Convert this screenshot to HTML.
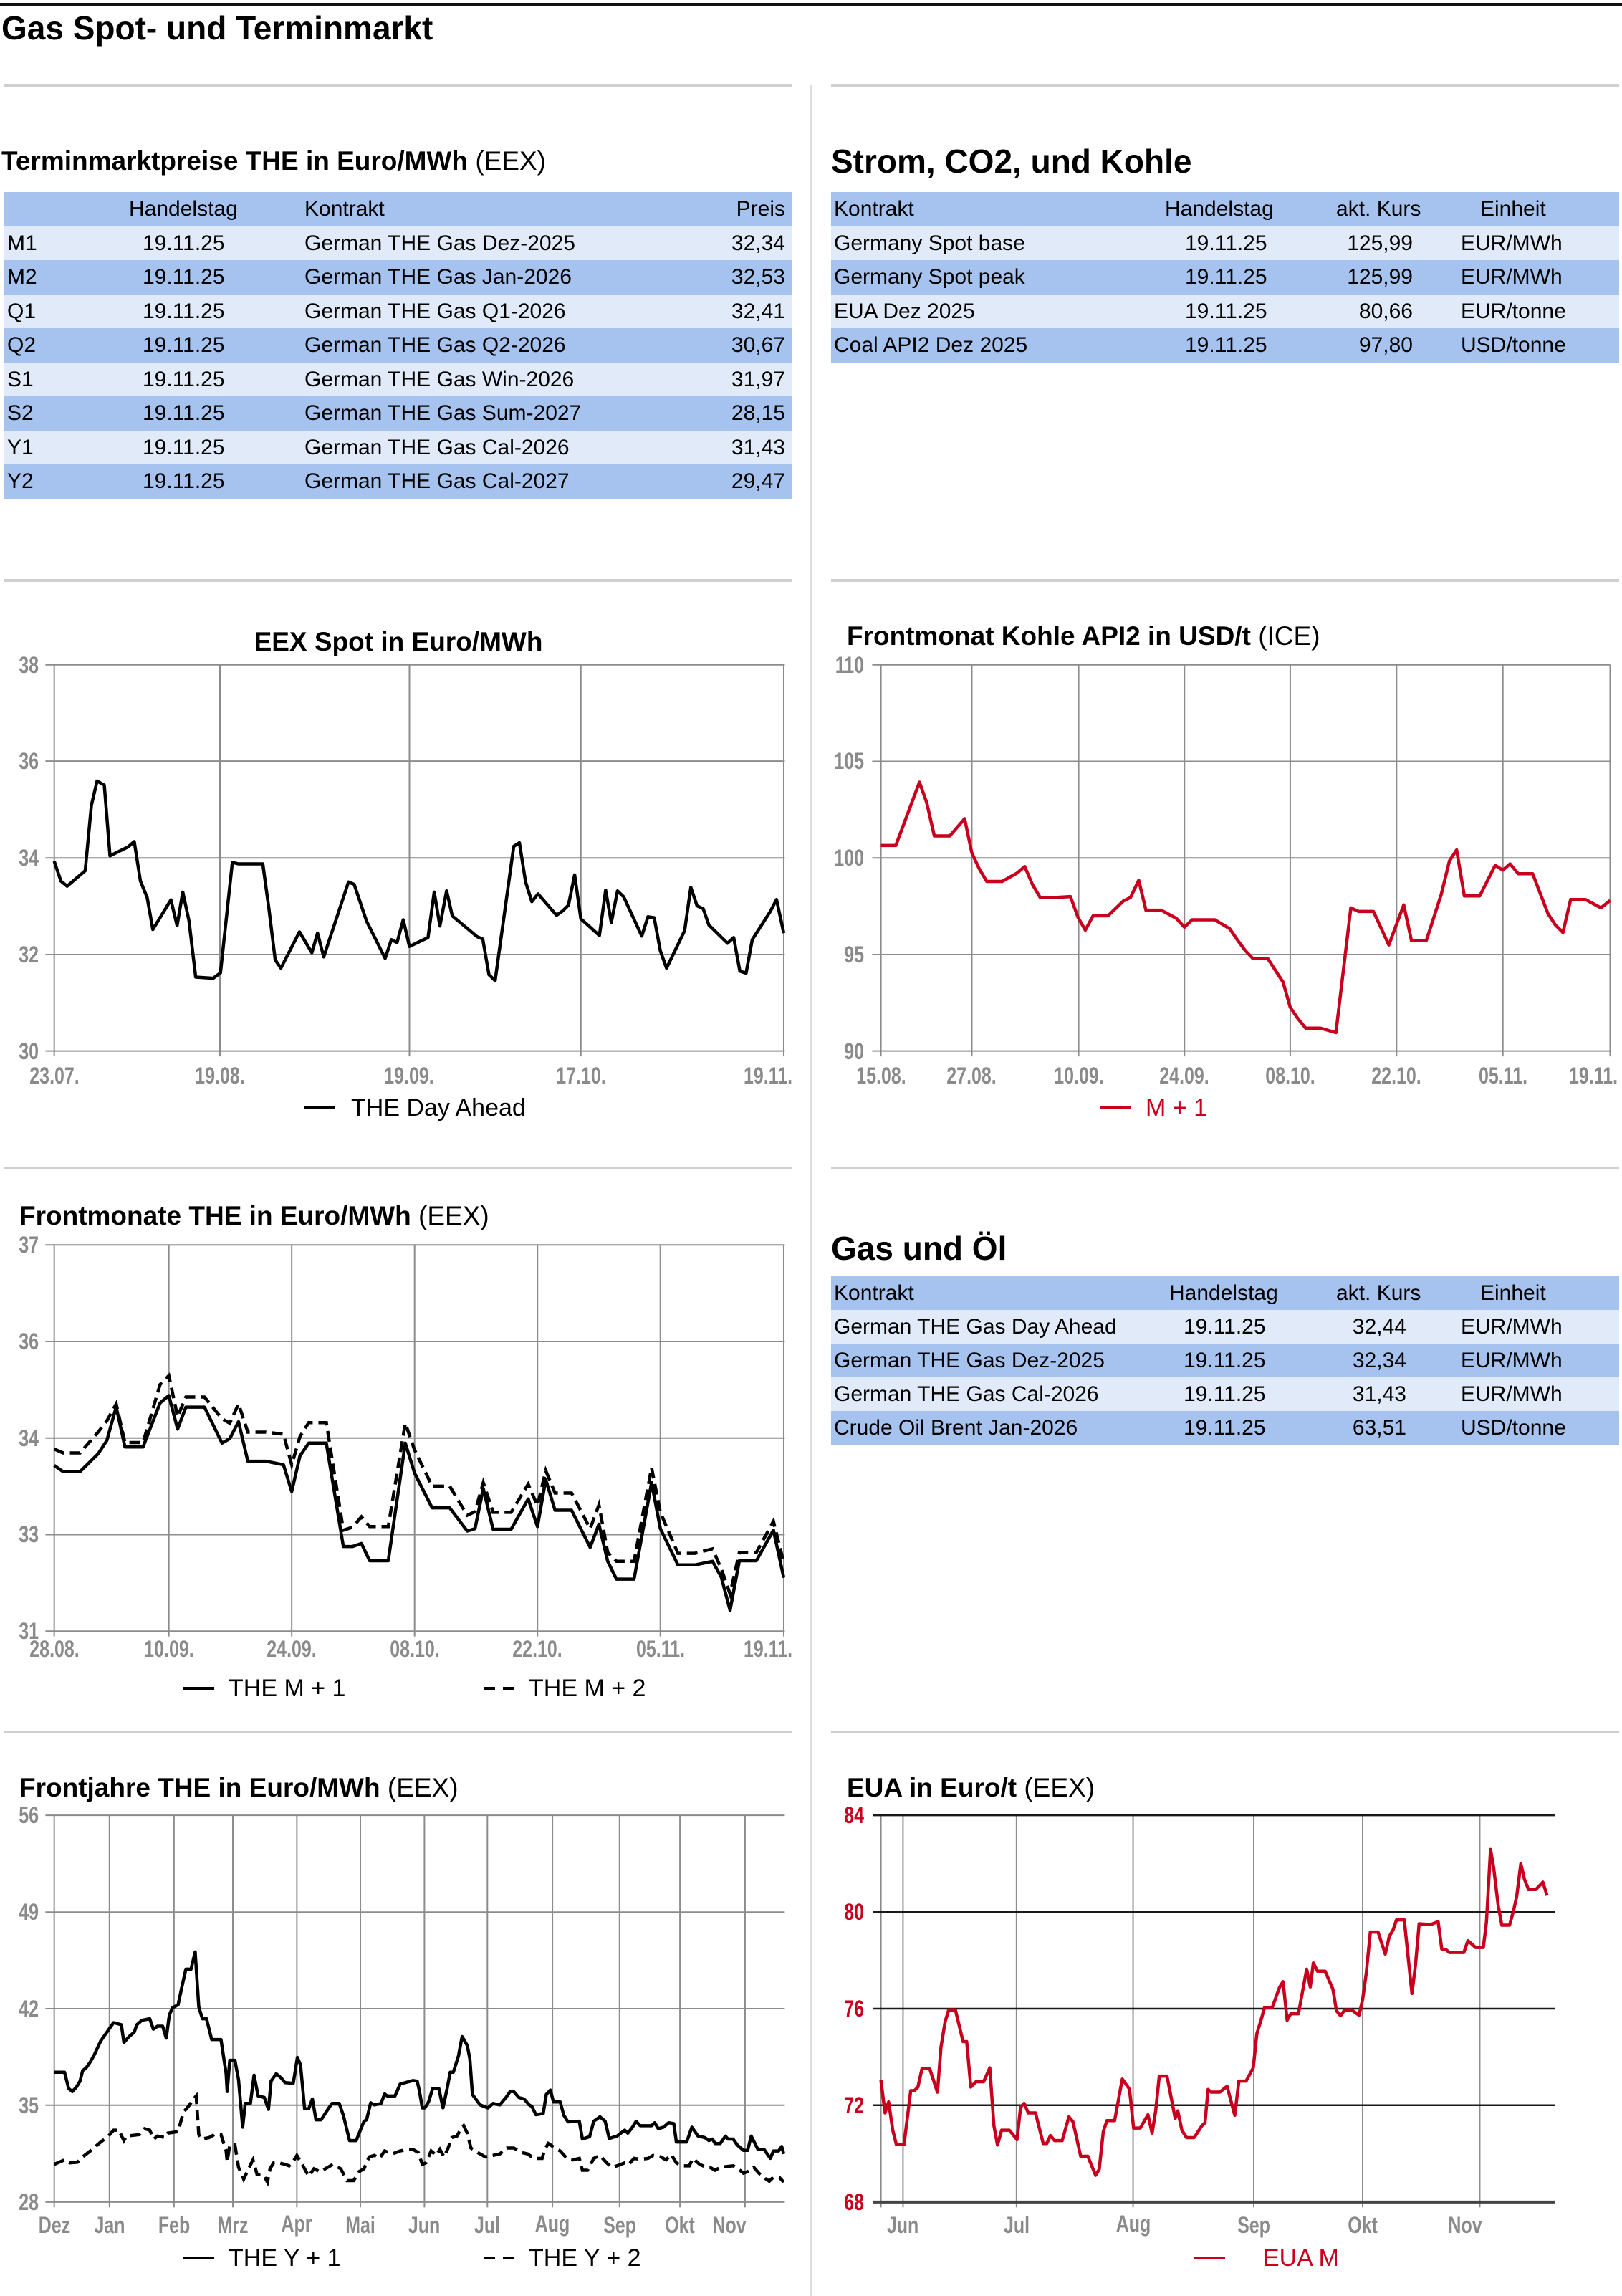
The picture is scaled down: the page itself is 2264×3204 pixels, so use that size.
<!DOCTYPE html>
<html><head><meta charset="utf-8">
<style>
body{margin:0;background:#fff;}
#p{position:relative;width:2264px;height:3204px;overflow:hidden;background:#fff;font-family:"Liberation Sans",Arial,sans-serif;color:#000;}
.a{position:absolute;white-space:nowrap;}
.hl{position:absolute;height:4px;background:#cfcfcf;}
.t{font-weight:bold;font-size:37px;transform:translateY(-50%);}
.t span{font-weight:normal;}
.row{position:absolute;height:47.5px;font-size:30px;line-height:47.5px;}
.row span{position:absolute;top:0;white-space:nowrap;}
.r{transform:translateX(-100%);}
.lt{background:#e0eaf8;}
.dk{background:#a5c3ee;}
.yl,.xl{position:absolute;font-weight:bold;font-size:32px;color:#8a8a8a;white-space:nowrap;line-height:1;}
.yl{transform:translate(-100%,-50%) scaleX(.78);transform-origin:right center;}
.xl{transform:translate(-50%,-50%) scaleX(.78);transform-origin:center center;}
.lg{position:absolute;font-size:34px;white-space:nowrap;transform:translateY(-50%);line-height:1;}
svg{position:absolute;overflow:visible;}
</style></head><body><div id="p">

<div class="a" style="left:0;top:4px;width:2264px;height:4px;background:#111"></div>
<div class="a" style="left:2px;top:39px;transform:translateY(-50%);font-size:46px;font-weight:bold;">Gas Spot- und Terminmarkt</div>

<div class="hl" style="left:6px;top:117px;width:1100px"></div>
<div class="hl" style="left:1160px;top:117px;width:1100px"></div>
<div class="a" style="left:1130px;top:118px;width:3px;height:3086px;background:#ddd"></div>
<div class="hl" style="left:6px;top:808px;width:1100px"></div>
<div class="hl" style="left:1160px;top:808px;width:1100px"></div>
<div class="hl" style="left:6px;top:1628px;width:1100px"></div>
<div class="hl" style="left:1160px;top:1628px;width:1100px"></div>
<div class="hl" style="left:6px;top:2415px;width:1100px"></div>
<div class="hl" style="left:1160px;top:2415px;width:1100px"></div>

<!-- Left table -->
<div class="a t" style="left:2px;top:225px;">Terminmarktpreise THE in Euro/MWh <span>(EEX)</span></div>
<div class="row dk" style="left:6px;top:268px;width:1100px"><span style="left:174px">Handelstag</span><span style="left:419px">Kontrakt</span><span class="r" style="left:1090px">Preis</span></div>
<div class="row lt" style="left:6px;top:315.5px;width:1100px"><span style="left:4px">M1</span><span style="left:193px">19.11.25</span><span style="left:419px">German THE Gas Dez-2025</span><span class="r" style="left:1090px">32,34</span></div>
<div class="row dk" style="left:6px;top:363px;width:1100px"><span style="left:4px">M2</span><span style="left:193px">19.11.25</span><span style="left:419px">German THE Gas Jan-2026</span><span class="r" style="left:1090px">32,53</span></div>
<div class="row lt" style="left:6px;top:410.5px;width:1100px"><span style="left:4px">Q1</span><span style="left:193px">19.11.25</span><span style="left:419px">German THE Gas Q1-2026</span><span class="r" style="left:1090px">32,41</span></div>
<div class="row dk" style="left:6px;top:458px;width:1100px"><span style="left:4px">Q2</span><span style="left:193px">19.11.25</span><span style="left:419px">German THE Gas Q2-2026</span><span class="r" style="left:1090px">30,67</span></div>
<div class="row lt" style="left:6px;top:505.5px;width:1100px"><span style="left:4px">S1</span><span style="left:193px">19.11.25</span><span style="left:419px">German THE Gas Win-2026</span><span class="r" style="left:1090px">31,97</span></div>
<div class="row dk" style="left:6px;top:553px;width:1100px"><span style="left:4px">S2</span><span style="left:193px">19.11.25</span><span style="left:419px">German THE Gas Sum-2027</span><span class="r" style="left:1090px">28,15</span></div>
<div class="row lt" style="left:6px;top:600.5px;width:1100px"><span style="left:4px">Y1</span><span style="left:193px">19.11.25</span><span style="left:419px">German THE Gas Cal-2026</span><span class="r" style="left:1090px">31,43</span></div>
<div class="row dk" style="left:6px;top:648px;width:1100px"><span style="left:4px">Y2</span><span style="left:193px">19.11.25</span><span style="left:419px">German THE Gas Cal-2027</span><span class="r" style="left:1090px">29,47</span></div>

<!-- Right top table -->
<div class="a" style="left:1160px;top:225px;transform:translateY(-50%);font-size:46px;font-weight:bold;">Strom, CO2, und Kohle</div>
<div class="row dk" style="left:1160px;top:268px;width:1100px"><span style="left:4px">Kontrakt</span><span style="left:466px">Handelstag</span><span style="left:705px">akt. Kurs</span><span style="left:906px">Einheit</span></div>
<div class="row lt" style="left:1160px;top:315.5px;width:1100px"><span style="left:4px">Germany Spot base</span><span style="left:494px">19.11.25</span><span class="r" style="left:812px">125,99</span><span style="left:879px">EUR/MWh</span></div>
<div class="row dk" style="left:1160px;top:363px;width:1100px"><span style="left:4px">Germany Spot peak</span><span style="left:494px">19.11.25</span><span class="r" style="left:812px">125,99</span><span style="left:879px">EUR/MWh</span></div>
<div class="row lt" style="left:1160px;top:410.5px;width:1100px"><span style="left:4px">EUA Dez 2025</span><span style="left:494px">19.11.25</span><span class="r" style="left:812px">80,66</span><span style="left:879px">EUR/tonne</span></div>
<div class="row dk" style="left:1160px;top:458px;width:1100px"><span style="left:4px">Coal API2 Dez 2025</span><span style="left:494px">19.11.25</span><span class="r" style="left:812px">97,80</span><span style="left:879px">USD/tonne</span></div>

<!-- Gas und Öl -->
<div class="a" style="left:1160px;top:1742px;transform:translateY(-50%);font-size:46px;font-weight:bold;">Gas und Öl</div>
<div class="row dk" style="left:1160px;top:1781px;width:1100px;height:47px;line-height:47px"><span style="left:472px">Handelstag</span><span style="left:705px">akt. Kurs</span><span style="left:906px">Einheit</span><span style="left:4px">Kontrakt</span></div>
<div class="row lt" style="left:1160px;top:1828px;width:1100px;height:47px;line-height:47px"><span style="left:4px">German THE Gas Day Ahead</span><span style="left:492px">19.11.25</span><span class="r" style="left:803px">32,44</span><span style="left:879px">EUR/MWh</span></div>
<div class="row dk" style="left:1160px;top:1875px;width:1100px;height:47px;line-height:47px"><span style="left:4px">German THE Gas Dez-2025</span><span style="left:492px">19.11.25</span><span class="r" style="left:803px">32,34</span><span style="left:879px">EUR/MWh</span></div>
<div class="row lt" style="left:1160px;top:1922px;width:1100px;height:47px;line-height:47px"><span style="left:4px">German THE Gas Cal-2026</span><span style="left:492px">19.11.25</span><span class="r" style="left:803px">31,43</span><span style="left:879px">EUR/MWh</span></div>
<div class="row dk" style="left:1160px;top:1969px;width:1100px;height:47px;line-height:47px"><span style="left:4px">Crude Oil Brent Jan-2026</span><span style="left:492px">19.11.25</span><span class="r" style="left:803px">63,51</span><span style="left:879px">USD/tonne</span></div>

<!-- Chart 1 -->
<div class="a t" style="left:556px;top:896px;transform:translate(-50%,-50%);">EEX Spot in Euro/MWh</div>
<svg style="left:0;top:900px;width:1130px;height:650px" viewBox="0 0 1568 1568" preserveAspectRatio="none">
<path fill="none" stroke="#8c8c8c" stroke-width="2" vector-effect="non-scaling-stroke" d="M88 67H1520M88 391H1520M88 717H1520M88 1042H1520M88 1367H1520M105 67V1385M426 67V1385M793 67V1385M1125 67V1385M1518 67V1385"/>
<polyline fill="none" stroke="#000" stroke-width="4.5" vector-effect="non-scaling-stroke" stroke-linejoin="round" points="105,728 118,795 130,812 165,760 177,540 188,458 202,472 213,710 248,680 260,662 272,795 285,850 296,958 331,858 343,945 354,832 366,928 379,1118 413,1122 427,1104 450,732 462,737 509,737 521,890 533,1060 544,1088 580,966 604,1036 615,970 627,1050 675,798 686,806 710,930 746,1055 758,992 769,1002 781,925 793,1015 829,985 841,832 852,946 865,828 876,912 924,982 935,990 947,1110 959,1130 995,678 1006,666 1018,798 1030,864 1042,838 1078,910 1090,895 1101,876 1113,774 1125,922 1161,978 1173,826 1184,934 1196,828 1208,848 1243,980 1255,915 1267,918 1279,1030 1291,1088 1326,962 1338,816 1350,878 1362,888 1373,943 1409,1004 1421,985 1433,1098 1445,1105 1457,992 1492,897 1504,857 1518,970"/>
</svg>
<div class="yl" style="left:54px;top:928px">38</div><div class="yl" style="left:54px;top:1062px">36</div><div class="yl" style="left:54px;top:1197px">34</div><div class="yl" style="left:54px;top:1332px">32</div><div class="yl" style="left:54px;top:1467px">30</div>
<div class="xl" style="left:76px;top:1501px">23.07.</div><div class="xl" style="left:307px;top:1501px">19.08.</div><div class="xl" style="left:571px;top:1501px">19.09.</div><div class="xl" style="left:811px;top:1501px">17.10.</div><div class="xl" style="left:1072px;top:1501px">19.11.</div>
<div class="a" style="left:425px;top:1544px;width:43px;height:4px;background:#000"></div>
<div class="lg" style="left:490px;top:1546px">THE Day Ahead</div>

<!-- Chart 2 -->
<div class="a t" style="left:1182px;top:888px;">Frontmonat Kohle API2 in USD/t <span>(ICE)</span></div>
<svg style="left:1140px;top:900px;width:1124px;height:650px" viewBox="0 0 1568 1568" preserveAspectRatio="none">
<path fill="none" stroke="#8c8c8c" stroke-width="2" vector-effect="non-scaling-stroke" d="M108 67H1545M108 392H1545M108 717H1545M108 1042H1545M108 1367H1545M125 67V1385M302 67V1385M510 67V1385M716 67V1385M922 67V1385M1129 67V1385M1336 67V1385M1545 67V1385"/>
<polyline fill="none" stroke="#c8001e" stroke-width="4.5" vector-effect="non-scaling-stroke" stroke-linejoin="round" points="125,675 154,675 200,462 214,530 229,643 259,643 288,585 302,700 316,752 331,796 361,796 390,768 405,746 420,806 435,850 465,850 494,847 509,918 523,960 538,912 567,912 597,862 611,850 627,792 641,893 671,893 700,920 716,950 731,925 775,925 804,955 820,995 835,1030 849,1055 878,1055 908,1135 922,1220 937,1258 952,1290 981,1290 1011,1305 1040,885 1055,897 1084,897 1114,1010 1143,875 1158,995 1187,995 1216,840 1232,727 1246,690 1261,845 1291,845 1321,742 1336,758 1350,737 1366,770 1394,770 1424,905 1438,942 1453,968 1468,857 1497,857 1527,885 1545,860"/>
</svg>
<div class="yl" style="left:1206px;top:928px">110</div><div class="yl" style="left:1206px;top:1062px">105</div><div class="yl" style="left:1206px;top:1197px">100</div><div class="yl" style="left:1206px;top:1332px">95</div><div class="yl" style="left:1206px;top:1467px">90</div>
<div class="xl" style="left:1230px;top:1501px">15.08.</div><div class="xl" style="left:1356px;top:1501px">27.08.</div><div class="xl" style="left:1506px;top:1501px">10.09.</div><div class="xl" style="left:1653px;top:1501px">24.09.</div><div class="xl" style="left:1801px;top:1501px">08.10.</div><div class="xl" style="left:1949px;top:1501px">22.10.</div><div class="xl" style="left:2098px;top:1501px">05.11.</div><div class="xl" style="left:2224px;top:1501px">19.11.</div>
<div class="a" style="left:1536px;top:1544px;width:43px;height:4px;background:#c8001e"></div>
<div class="lg" style="left:1599px;top:1546px;color:#c8001e">M + 1</div>

<!-- Chart 3 -->
<div class="a t" style="left:27px;top:1697px;">Frontmonate THE in Euro/MWh <span>(EEX)</span></div>
<svg style="left:0;top:1700px;width:1130px;height:650px" viewBox="0 0 1568 1568" preserveAspectRatio="none">
<path fill="none" stroke="#8c8c8c" stroke-width="2" vector-effect="non-scaling-stroke" d="M88 90H1520M88 415H1520M88 740H1520M88 1065H1520M88 1390H1520M105 90V1408M327 90V1408M565 90V1408M803 90V1408M1041 90V1408M1279 90V1408M1518 90V1408"/>
<polyline fill="none" stroke="#000" stroke-width="4.5" vector-effect="non-scaling-stroke" stroke-dasharray="15 8" points="105,777 122,790 155,790 190,720 207,682 225,625 242,755 277,755 310,560 327,530 344,668 360,602 396,602 430,675 445,690 462,625 480,720 515,720 549,727 565,830 581,735 598,688 632,688 665,1050 683,1040 700,1005 716,1038 752,1038 785,690 803,780 837,902 871,902 905,1000 920,988 936,890 955,990 990,990 1023,895 1041,968 1057,850 1075,925 1107,925 1143,1045 1160,965 1177,1125 1194,1155 1228,1155 1262,840 1279,990 1313,1128 1346,1128 1380,1113 1397,1180 1414,1265 1432,1125 1465,1125 1498,1020 1518,1160"/>
<polyline fill="none" stroke="#000" stroke-width="4.5" vector-effect="non-scaling-stroke" stroke-linejoin="round" points="105,832 122,853 155,853 190,793 207,748 225,635 242,770 277,770 310,622 327,597 344,710 360,636 396,636 430,757 445,742 462,685 480,818 515,818 549,830 565,920 581,800 598,757 632,757 665,1105 683,1105 700,1095 716,1153 752,1153 785,757 803,858 837,975 871,975 905,1053 920,1045 936,910 955,1047 990,1047 1023,945 1041,1038 1057,880 1075,983 1107,983 1143,1108 1160,1030 1177,1155 1194,1215 1228,1215 1262,890 1279,1045 1313,1167 1346,1167 1380,1155 1397,1208 1414,1320 1432,1153 1465,1153 1498,1050 1518,1210"/>
</svg>
<div class="yl" style="left:54px;top:1737px">37</div><div class="yl" style="left:54px;top:1872px">36</div><div class="yl" style="left:54px;top:2007px">34</div><div class="yl" style="left:54px;top:2141px">33</div><div class="yl" style="left:54px;top:2276px">31</div>
<div class="xl" style="left:76px;top:2301px">28.08.</div><div class="xl" style="left:236px;top:2301px">10.09.</div><div class="xl" style="left:407px;top:2301px">24.09.</div><div class="xl" style="left:579px;top:2301px">08.10.</div><div class="xl" style="left:750px;top:2301px">22.10.</div><div class="xl" style="left:922px;top:2301px">05.11.</div><div class="xl" style="left:1072px;top:2301px">19.11.</div>
<div class="a" style="left:256px;top:2354px;width:43px;height:4px;background:#000"></div>
<div class="lg" style="left:319px;top:2356px">THE M + 1</div>
<div class="a" style="left:675px;top:2354px;width:16px;height:4px;background:#000"></div><div class="a" style="left:702px;top:2354px;width:16px;height:4px;background:#000"></div>
<div class="lg" style="left:738px;top:2356px">THE M + 2</div>

<!-- Chart 4 -->
<div class="a t" style="left:27px;top:2495px;">Frontjahre THE in Euro/MWh <span>(EEX)</span></div>
<svg style="left:0;top:2500px;width:1130px;height:650px" viewBox="0 0 1568 1568" preserveAspectRatio="none">
<path fill="none" stroke="#8c8c8c" stroke-width="2" vector-effect="non-scaling-stroke" d="M88 80H1520M88 406H1520M88 731H1520M88 1056H1520M88 1382H1520M105 80V1400M212 80V1400M337 80V1400M451 80V1400M575 80V1400M698 80V1400M822 80V1400M944 80V1400M1070 80V1400M1200 80V1400M1317 80V1400M1443 80V1400"/>
<polyline fill="none" stroke="#000" stroke-width="4.5" vector-effect="non-scaling-stroke" stroke-dasharray="15 8" points="105,1255 125,1240 135,1250 150,1248 160,1230 175,1210 185,1195 195,1180 210,1160 220,1140 230,1140 240,1175 245,1160 270,1155 280,1135 290,1140 298,1170 305,1160 320,1165 325,1150 345,1145 355,1080 365,1060 375,1035 380,1025 385,1155 390,1170 405,1165 415,1155 428,1155 438,1210 440,1245 445,1190 455,1190 462,1265 472,1305 480,1275 490,1240 498,1290 510,1290 518,1315 523,1270 530,1250 540,1250 552,1255 560,1260 568,1245 575,1225 590,1270 598,1295 608,1270 620,1280 630,1270 645,1255 660,1270 672,1310 685,1310 695,1280 705,1270 715,1230 725,1225 735,1235 745,1210 760,1220 775,1210 790,1205 800,1205 810,1215 818,1255 825,1250 835,1210 845,1225 852,1205 860,1230 868,1200 875,1165 885,1160 893,1135 898,1125 905,1150 912,1200 925,1215 940,1230 955,1225 968,1220 982,1200 995,1200 1010,1215 1022,1220 1030,1230 1040,1235 1050,1235 1055,1205 1062,1185 1075,1200 1085,1210 1098,1235 1110,1240 1122,1235 1128,1275 1138,1275 1150,1235 1162,1225 1175,1250 1185,1265 1195,1260 1210,1250 1218,1255 1228,1235 1240,1238 1255,1235 1265,1225 1280,1230 1290,1240 1300,1222 1310,1250 1320,1260 1335,1260 1342,1235 1355,1255 1368,1265 1375,1265 1385,1275 1395,1265 1410,1262 1420,1260 1430,1270 1440,1285 1450,1278 1460,1265 1470,1285 1480,1300 1490,1312 1498,1298 1510,1300 1518,1315"/>
<polyline fill="none" stroke="#000" stroke-width="4.5" vector-effect="non-scaling-stroke" stroke-linejoin="round" points="105,945 125,945 133,1000 140,1010 148,995 155,975 160,940 167,930 175,910 183,885 195,840 205,815 220,778 235,785 240,845 250,825 260,810 265,785 275,770 290,765 297,800 305,790 315,790 322,830 328,752 334,728 345,718 352,660 360,598 370,598 378,540 385,725 392,765 400,765 410,835 428,835 438,950 440,1010 445,905 455,905 462,970 470,1130 475,1050 485,1050 492,955 500,1025 512,1030 520,1070 525,975 535,950 545,965 552,980 568,982 576,895 582,920 590,1068 598,1068 605,1035 612,1105 622,1105 635,1070 643,1050 657,1050 665,1090 677,1175 690,1175 698,1140 705,1110 710,1105 718,1048 725,1055 738,1050 745,1018 750,1025 765,1025 775,985 785,980 800,973 808,975 812,1005 818,1065 823,1065 830,1045 838,1000 850,1000 858,1065 866,1000 872,945 878,945 888,890 895,825 905,855 910,900 915,1020 930,1055 945,1065 955,1050 968,1055 980,1030 988,1010 995,1010 1005,1030 1015,1035 1025,1055 1030,1060 1038,1088 1048,1085 1052,1085 1058,1020 1066,1005 1072,1045 1085,1045 1092,1090 1100,1112 1122,1110 1128,1170 1142,1162 1150,1110 1162,1095 1172,1110 1180,1168 1195,1160 1210,1140 1216,1150 1225,1130 1232,1110 1240,1125 1262,1125 1268,1115 1275,1135 1285,1130 1295,1115 1305,1118 1310,1180 1330,1180 1340,1130 1352,1160 1365,1165 1373,1175 1380,1170 1385,1185 1395,1185 1405,1160 1410,1170 1420,1170 1428,1190 1440,1208 1448,1208 1455,1160 1468,1205 1480,1205 1492,1235 1498,1210 1508,1210 1514,1195 1518,1220"/>
</svg>
<div class="yl" style="left:54px;top:2533px">56</div><div class="yl" style="left:54px;top:2668px">49</div><div class="yl" style="left:54px;top:2803px">42</div><div class="yl" style="left:54px;top:2938px">35</div><div class="yl" style="left:54px;top:3073px">28</div>
<div class="xl" style="left:76px;top:3105px">Dez</div><div class="xl" style="left:153px;top:3105px">Jan</div><div class="xl" style="left:243px;top:3105px">Feb</div><div class="xl" style="left:325px;top:3105px">Mrz</div><div class="xl" style="left:414px;top:3103px">Apr</div><div class="xl" style="left:503px;top:3105px">Mai</div><div class="xl" style="left:592px;top:3105px">Jun</div><div class="xl" style="left:680px;top:3105px">Jul</div><div class="xl" style="left:771px;top:3103px">Aug</div><div class="xl" style="left:865px;top:3105px">Sep</div><div class="xl" style="left:949px;top:3105px">Okt</div><div class="xl" style="left:1018px;top:3105px">Nov</div>
<div class="a" style="left:256px;top:3149px;width:43px;height:4px;background:#000"></div>
<div class="lg" style="left:319px;top:3151px">THE Y + 1</div>
<div class="a" style="left:675px;top:3149px;width:16px;height:4px;background:#000"></div><div class="a" style="left:702px;top:3149px;width:16px;height:4px;background:#000"></div>
<div class="lg" style="left:738px;top:3151px">THE Y + 2</div>

<!-- Chart 5 -->
<div class="a t" style="left:1182px;top:2495px;">EUA in Euro/t <span>(EEX)</span></div>
<svg style="left:1140px;top:2500px;width:1124px;height:650px" viewBox="0 0 1568 1568" preserveAspectRatio="none">
<path fill="none" stroke="#8c8c8c" stroke-width="2" vector-effect="non-scaling-stroke" d="M125 80V1400M168 80V1400M389 80V1400M616 80V1400M851 80V1400M1063 80V1400M1291 80V1400"/>
<path fill="none" stroke="#1a1a1a" stroke-width="2.5" vector-effect="non-scaling-stroke" d="M110 80H1438M110 406H1438M110 731H1438M110 1056H1438"/>
<path fill="none" stroke="#444" stroke-width="4" vector-effect="non-scaling-stroke" d="M110 1382H1438"/>
<polyline fill="none" stroke="#c8001e" stroke-width="4.5" vector-effect="non-scaling-stroke" stroke-linejoin="round" points="125,972 133,1082 140,1045 148,1140 155,1188 170,1188 183,1007 190,1007 197,995 205,933 220,933 235,1012 242,860 250,775 257,735 270,735 285,842 292,842 300,995 310,977 325,977 337,930 345,1125 352,1190 360,1140 375,1140 390,1172 397,1062 404,1050 412,1082 426,1082 441,1185 448,1185 455,1158 463,1175 478,1175 491,1095 499,1112 514,1228 528,1228 543,1292 550,1272 558,1145 565,1108 580,1108 595,968 609,1002 617,1133 630,1133 645,1088 653,1150 660,1075 667,958 682,958 698,1100 703,1075 711,1140 720,1165 735,1165 750,1125 756,1115 762,1003 768,1012 785,1012 799,992 814,1090 822,975 836,975 850,930 857,815 865,770 872,727 887,727 901,660 908,640 916,770 923,748 938,748 954,598 961,658 967,577 975,605 990,605 1005,665 1012,738 1020,755 1028,735 1041,735 1056,753 1063,700 1070,612 1078,473 1093,473 1107,547 1115,487 1122,467 1129,432 1144,432 1159,680 1166,582 1173,445 1195,448 1210,438 1217,530 1225,532 1232,542 1260,542 1268,502 1283,525 1298,525 1304,440 1312,195 1318,255 1327,385 1334,450 1349,450 1357,400 1363,352 1371,243 1378,295 1386,330 1400,330 1414,305 1422,350"/>
</svg>
<div class="yl" style="left:1206px;top:2533px;color:#c8001e">84</div><div class="yl" style="left:1206px;top:2668px;color:#c8001e">80</div><div class="yl" style="left:1206px;top:2803px;color:#c8001e">76</div><div class="yl" style="left:1206px;top:2938px;color:#c8001e">72</div><div class="yl" style="left:1206px;top:3073px;color:#c8001e">68</div>
<div class="xl" style="left:1260px;top:3105px">Jun</div><div class="xl" style="left:1419px;top:3105px">Jul</div><div class="xl" style="left:1582px;top:3103px">Aug</div><div class="xl" style="left:1750px;top:3105px">Sep</div><div class="xl" style="left:1902px;top:3105px">Okt</div><div class="xl" style="left:2045px;top:3105px">Nov</div>
<div class="a" style="left:1667px;top:3149px;width:43px;height:4px;background:#c8001e"></div>
<div class="lg" style="left:1763px;top:3151px;color:#c8001e">EUA M</div>

</div></body></html>
